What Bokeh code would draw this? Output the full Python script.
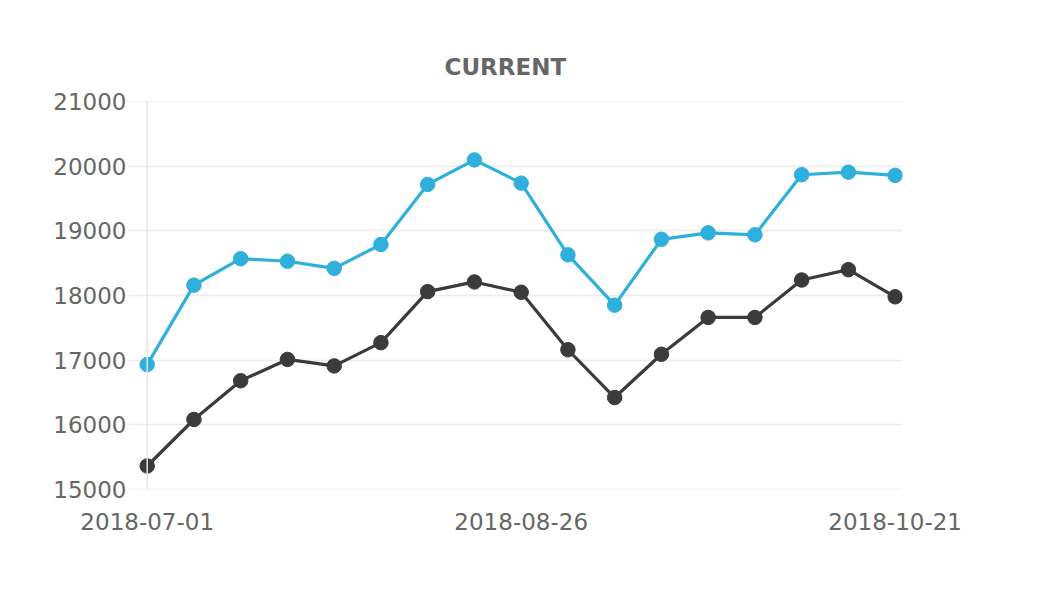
from datetime import datetime, timedelta
from bokeh.plotting import figure
from bokeh.models import Range1d, FixedTicker, DatetimeTickFormatter, Span
from bokeh.embed import file_html
from bokeh.resources import INLINE

# ---- data ----
dates = [datetime(2018, 7, 1) + timedelta(weeks=i) for i in range(17)]
series_blue = [16930, 18160, 18570, 18530, 18420, 18790, 19720, 20100, 19740,
               18630, 17850, 18870, 18970, 18940, 19870, 19910, 19860]
series_dark = [15360, 16080, 16680, 17010, 16910, 17270, 18060, 18210, 18050,
               17160, 16420, 17090, 17660, 17660, 18240, 18400, 17980]
x_tick_dates = [datetime(2018, 7, 1), datetime(2018, 8, 26), datetime(2018, 10, 21)]
y_ticks = [15000, 16000, 17000, 18000, 19000, 20000, 21000]
title_text = "CURRENT"

BLUE = "#2eafdc"
DARK = "#3b3b3b"
GREY_TXT = "#666666"
GRID = "#ebebeb"
FONT = "DejaVu Sans"

def ms(d):
    return (d - datetime(1970, 1, 1)).total_seconds() * 1000.0

day = 86400000.0
p = figure(width=1000, height=580, output_backend="svg", toolbar_location=None,
           x_axis_type="datetime",
           x_range=Range1d(ms(dates[0]) - 2.8 * day, ms(dates[-1]) + 1.1 * day),
           y_range=Range1d(y_ticks[0] - 4, y_ticks[-1] + 4),
           title=title_text)
p.min_border_left = 128
p.min_border_right = 98
p.min_border_top = 101
p.min_border_bottom = 91
p.outline_line_color = None
p.background_fill_color = "white"
p.border_fill_color = "white"

p.title.align = "left"
p.title.offset = 316
p.title.standoff = 43
p.title.text_font = FONT
p.title.text_font_size = "23px"
p.title.text_font_style = "bold"
p.title.text_color = GREY_TXT

p.xgrid.grid_line_color = None
p.ygrid.grid_line_color = GRID
p.ygrid.grid_line_width = 1.5

p.yaxis.ticker = FixedTicker(ticks=y_ticks)
p.yaxis.axis_line_color = None
p.yaxis.major_tick_line_color = None
p.yaxis.minor_tick_line_color = None
p.yaxis.major_tick_out = 0
p.yaxis.major_label_standoff = 2
p.yaxis.major_label_text_font = FONT
p.yaxis.major_label_text_font_size = "23px"
p.yaxis.major_label_text_color = GREY_TXT

p.xaxis.ticker = FixedTicker(ticks=[ms(d) for d in x_tick_dates])
p.xaxis.formatter = DatetimeTickFormatter(days="%Y-%m-%d", months="%Y-%m-%d",
                                          years="%Y-%m-%d", hours="%Y-%m-%d")
p.xaxis.axis_line_color = None
p.xaxis.major_tick_line_color = None
p.xaxis.minor_tick_line_color = None
p.xaxis.major_tick_out = 0
p.xaxis.major_label_standoff = 23
p.xaxis.major_label_text_font = FONT
p.xaxis.major_label_text_font_size = "23px"
p.xaxis.major_label_text_color = GREY_TXT

p.add_layout(Span(location=ms(dates[0]), dimension="height",
                  line_color="#e6e6e6", line_width=1.5))

p.line(dates, series_blue, line_color=BLUE, line_width=3.2)
p.scatter(dates, series_blue, size=14.5, fill_color=BLUE, line_color=BLUE)
p.line(dates, series_dark, line_color=DARK, line_width=3.2)
p.scatter(dates, series_dark, size=14.5, fill_color=DARK, line_color=DARK)

open("out.html", "w").write(file_html(p, INLINE))
